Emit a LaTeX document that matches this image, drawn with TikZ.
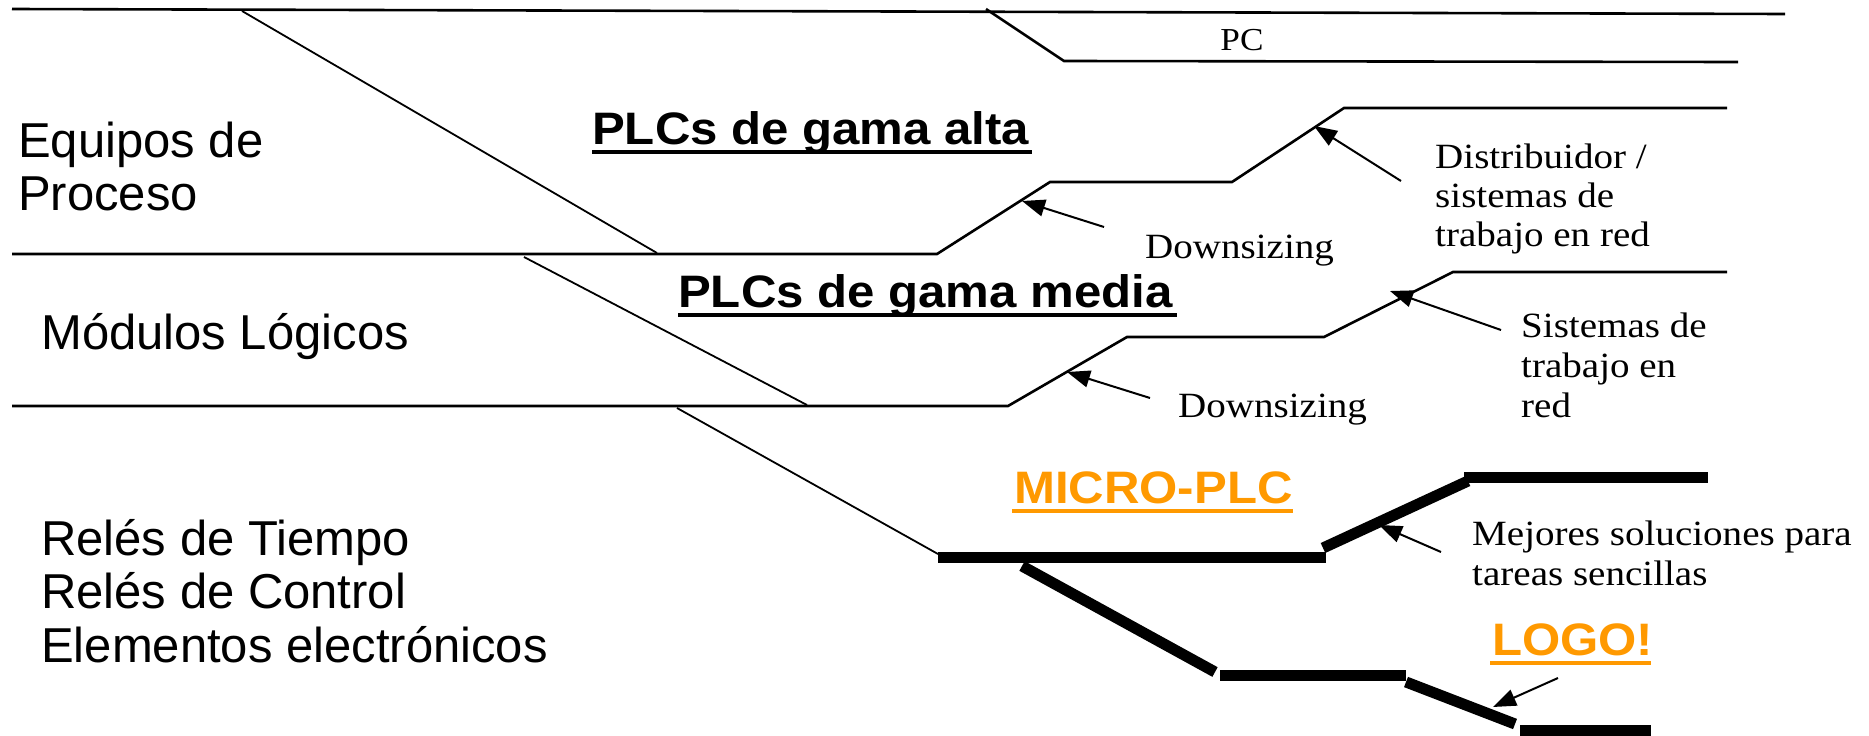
\documentclass[tikz,border=0pt]{standalone}
\usepackage{fontspec}
\usetikzlibrary{arrows.meta}
\newfontfamily\arialf{Liberation Sans}
\newfontfamily\arialbf[FakeStretch=1.08]{Liberation Sans Bold}
\newfontfamily\timesf[FakeStretch=1.1]{Liberation Serif}
\definecolor{plcorange}{RGB}{255,153,0}
\tikzset{
  bound/.style={line width=2.6pt, line join=miter},
  thinl/.style={line width=1.8pt},
  thickl/.style={line width=11pt, line cap=butt},
  ptr/.style={line width=2pt, -{Triangle[length=23pt,width=17pt]}},
  sans/.style={font=\arialf\fontsize{49}{53}\selectfont, inner sep=0pt, anchor=base west},
  serif/.style={font=\timesf\fontsize{35.5}{40}\selectfont, inner sep=0pt, anchor=base west},
  head/.style={font=\arialbf\fontsize{45.5}{50}\selectfont, inner sep=0pt, anchor=base west},
  uline/.style={line width=4.5pt},
}
\begin{document}
\begin{tikzpicture}[x=1pt,y=-1pt]
\useasboundingbox (0,0) rectangle (1869,736);

% ---------- coordinates ----------
\coordinate (t0) at (12,9);   \coordinate (t1) at (1785,14);
\coordinate (dA0) at (242,11); \coordinate (dA1) at (657,253);
\coordinate (pc0) at (986,9); \coordinate (pc1) at (1064,61); \coordinate (pc2) at (1738,62);

\coordinate (b0) at (12,254); \coordinate (b1) at (937,254); \coordinate (b2) at (1050,182);
\coordinate (b3) at (1232,182); \coordinate (b4) at (1344,108); \coordinate (b5) at (1727,108);

\coordinate (dB0) at (524,257); \coordinate (dB1) at (807,405);

\coordinate (c0) at (12,406); \coordinate (c1) at (1008,406); \coordinate (c2) at (1127,337);
\coordinate (c3) at (1324,337); \coordinate (c4) at (1453,272); \coordinate (c5) at (1727,272);

\coordinate (dC0) at (677,408); \coordinate (dC1) at (938,554);

\coordinate (m0) at (938,557); \coordinate (m1) at (1326,557);
\coordinate (m2) at (1323,548); \coordinate (m3) at (1468,481);
\coordinate (m4) at (1464,477); \coordinate (m5) at (1708,477);

\coordinate (l0) at (1022,566); \coordinate (l1) at (1215,672);
\coordinate (l2) at (1220,675); \coordinate (l3) at (1406,675);
\coordinate (l4) at (1406,682); \coordinate (l5) at (1515,724);
\coordinate (l6) at (1520,730); \coordinate (l7) at (1651,730);

% arrows
\coordinate (a1t) at (1104,227); \coordinate (a1h) at (1022,201);
\coordinate (a2t) at (1401,181); \coordinate (a2h) at (1314,126);
\coordinate (a3t) at (1150,398); \coordinate (a3h) at (1067,372);
\coordinate (a4t) at (1501,330); \coordinate (a4h) at (1390,291);
\coordinate (a5t) at (1441,552); \coordinate (a5h) at (1379,525);
\coordinate (a6t) at (1558,678); \coordinate (a6h) at (1493,707);

% ---------- lines ----------
\draw[bound] (t0) -- (t1);
\draw[thinl] (dA0) -- (dA1);
\draw[bound] (pc0) -- (pc1) -- (pc2);
\draw[bound] (b0) -- (b1) -- (b2) -- (b3) -- (b4) -- (b5);
\draw[thinl] (dB0) -- (dB1);
\draw[bound] (c0) -- (c1) -- (c2) -- (c3) -- (c4) -- (c5);
\draw[thinl] (dC0) -- (dC1);

\draw[thickl] (m0) -- (m1);
\draw[thickl] (m2) -- (m3);
\draw[thickl] (m4) -- (m5);
\draw[thickl] (l0) -- (l1);
\draw[thickl] (l2) -- (l3);
\draw[thickl] (l4) -- (l5);
\draw[thickl] (l6) -- (l7);

\draw[ptr] (a1t) -- (a1h);
\draw[ptr] (a2t) -- (a2h);
\draw[ptr] (a3t) -- (a3h);
\draw[ptr] (a4t) -- (a4h);
\draw[ptr] (a5t) -- (a5h);
\draw[ptr] (a6t) -- (a6h);

% ---------- left labels ----------
\node[sans] (eq1) at (18,157) {Equipos de};
\node[sans] (eq2) at (18,210) {Proceso};
\node[sans] (mod) at (41,349) {Módulos Lógicos};
\node[sans] (rel1) at (41,555) {Relés de Tiempo};
\node[sans] (rel2) at (41,608) {Relés de Control};
\node[sans] (rel3) at (41,662) {Elementos electrónicos};

% ---------- headings ----------
\node[head] (alta) at (592,144) {PLCs de gama alta};
\draw[uline] (592,152) -- (1032,152);
\node[head] (media) at (678,307) {PLCs de gama media};
\draw[uline] (678,315) -- (1177,315);
\node[head, text=plcorange] (micro) at (1014,503) {MICRO-PLC};
\draw[uline, plcorange] (1012,511) -- (1293,511);
\node[head, text=plcorange] (logo) at (1492,655) {LOGO!};
\draw[uline, plcorange] (1490,663) -- (1651,663);

% ---------- serif labels ----------
\node[serif, font=\timesf\fontsize{32}{36}\selectfont, anchor=base] (pc) at (1242,50) {PC};
\node[serif] (ds1) at (1145,258) {Downsizing};
\node[serif] (di1) at (1435,168) {Distribuidor /};
\node[serif] (di2) at (1435,207) {sistemas de};
\node[serif] (di3) at (1435,246) {trabajo en red};
\node[serif] (ds2) at (1178,417) {Downsizing};
\node[serif] (si1) at (1521,337) {Sistemas de};
\node[serif] (si2) at (1521,377) {trabajo en};
\node[serif] (si3) at (1521,417) {red};
\node[serif] (me1) at (1472,545) {Mejores soluciones para};
\node[serif] (me2) at (1472,585) {tareas sencillas};
\end{tikzpicture}
\end{document}
